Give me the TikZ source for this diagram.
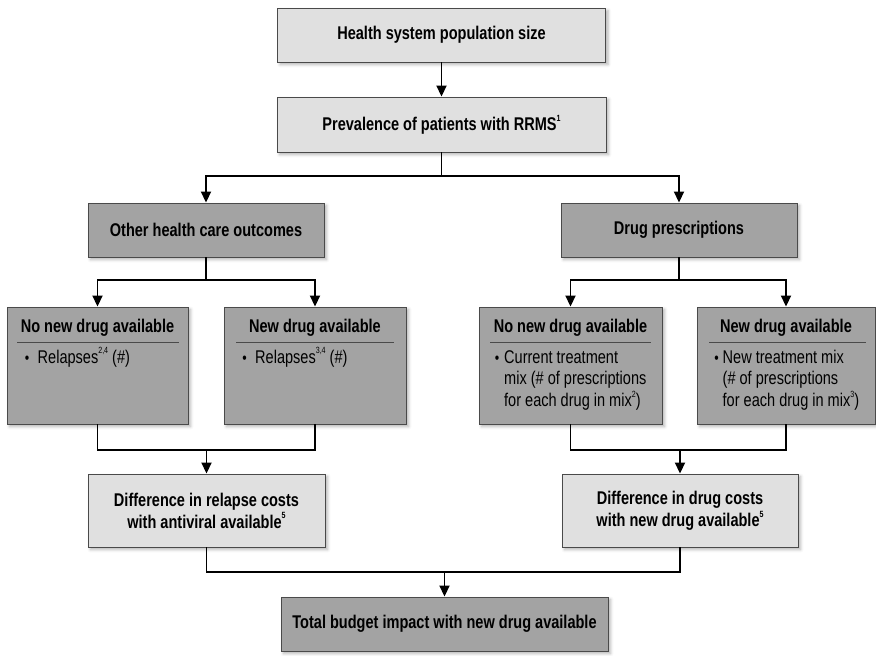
\documentclass[tikz,border=0pt]{standalone}
\usepackage{fontspec}
\setmainfont{Liberation Sans}[FakeStretch=0.79]
\usetikzlibrary{arrows.meta,shadows.blur}
\definecolor{lightfill}{HTML}{E0E0E0}
\definecolor{darkfill}{HTML}{A3A3A3}
\definecolor{edgegray}{HTML}{4A4A4A}
\newcommand{\supnum}[1]{\raisebox{0.5em}{\fontsize{9}{9}\selectfont #1}}
\tikzset{
  basebox/.style={draw=edgegray, line width=0.9pt, inner sep=0pt, align=center,
    font=\bfseries\fontsize{18.4}{22}\selectfont,
    blur shadow={shadow xshift=2.5pt, shadow yshift=-2.5pt, shadow blur radius=3pt, shadow opacity=30}},
  lightbox/.style={basebox, fill=lightfill},
  darkbox/.style={basebox, fill=darkfill},
  boxtitle/.style={font=\bfseries\fontsize{18.4}{20}\selectfont, inner sep=0pt, anchor=base},
  bodyline/.style={font=\fontsize{18.4}{20}\selectfont, inner sep=0pt, anchor=base west},
  bulletmark/.style={font=\fontsize{16}{20}\selectfont, inner sep=0pt, anchor=base},
  divider/.style={draw=edgegray, line width=0.8pt},
  link/.style={line width=1.8pt, draw=black},
  arr/.style={link, -{Triangle[length=11pt, width=10pt]}}
}
\begin{document}
\begin{tikzpicture}[x=1pt, y=-1pt]
\useasboundingbox (0,0) rectangle (876,656);

% top chain
\node[lightbox, minimum width=328pt, minimum height=54pt] (popsize) at (441.5,35) {Health system population size};
\node[lightbox, minimum width=329pt, minimum height=55pt] (prevalence) at (441.5,124.5) {Prevalence of patients with RRMS\supnum{1}};

% second level
\node[darkbox, minimum width=236pt, minimum height=54pt] (outcomes) at (206,230) {Other health care outcomes};
\node[darkbox, minimum width=236pt, minimum height=54pt] (prescr) at (679,230) {Drug prescriptions};

% scenario boxes
\node[darkbox, minimum width=181pt, minimum height=117pt] (relno) at (97.5,365.5) {};
\node[darkbox, minimum width=182pt, minimum height=117pt] (relnew) at (315,365.5) {};
\node[darkbox, minimum width=183pt, minimum height=117pt] (mixno) at (570.5,365.5) {};
\node[darkbox, minimum width=178pt, minimum height=117pt] (mixnew) at (786,365.5) {};

% titles and dividers inside scenario boxes
\node[boxtitle] (relnoT) at (97.5,332) {No new drug available};
\node[boxtitle] (relnewT) at (315,332) {New drug available};
\node[boxtitle] (mixnoT) at (570.5,332) {No new drug available};
\node[boxtitle] (mixnewT) at (786,332) {New drug available};
\draw[divider] (17,342) -- (179,342);
\draw[divider] (236,342) -- (394,342);
\draw[divider] (490,342) -- (651,342);
\draw[divider] (709,342) -- (866,342);

% bullet texts
\node[bulletmark] (relnoB) at (27,363) {\textbullet};
\node[bodyline] (relnoL1) at (37.5,363) {Relapses\supnum{2,4} (\#)};
\node[bulletmark] (relnewB) at (244.5,363) {\textbullet};
\node[bodyline] (relnewL1) at (255,363) {Relapses\supnum{3,4} (\#)};

\node[bulletmark] (mixnoB) at (497,363) {\textbullet};
\node[bodyline] (mixnoL1) at (504,363) {Current treatment};
\node[bodyline] (mixnoL2) at (504,384.7) {mix (\# of prescriptions};
\node[bodyline] (mixnoL3) at (504,406.4) {for each drug in mix\supnum{2})};

\node[bulletmark] (mixnewB) at (716.5,363) {\textbullet};
\node[bodyline] (mixnewL1) at (722.5,363) {New treatment mix};
\node[bodyline] (mixnewL2) at (722.5,384.7) {(\# of prescriptions};
\node[bodyline] (mixnewL3) at (722.5,406.4) {for each drug in mix\supnum{3})};

% difference boxes
\node[lightbox, minimum width=237pt, minimum height=73pt] (reldiff) at (206.5,510.5) {Difference in relapse costs\\with antiviral available\supnum{5}};
\node[lightbox, minimum width=236pt, minimum height=73pt] (drugdiff) at (680,510.5) {Difference in drug costs\\with new drug available\supnum{5}};

% total
\node[darkbox, minimum width=327pt, minimum height=54pt] (total) at (444.5,624) {Total budget impact with new drug available};

% connectors
\draw[arr] (popsize.south) -- (prevalence.north);

\coordinate (split1) at (441.5,176);
\draw[link] (prevalence.south) -- (split1);
\draw[arr] (split1) -| (outcomes.north);
\draw[arr] (split1) -| (prescr.north);

\coordinate (split2) at (206,280);
\draw[link] (outcomes.south) -- (split2);
\draw[arr] (split2) -| (relno.north);
\draw[arr] (split2) -| (relnew.north);

\coordinate (split3) at (679,280);
\draw[link] (prescr.south) -- (split3);
\draw[arr] (split3) -| (mixno.north);
\draw[arr] (split3) -| (mixnew.north);

\coordinate (join1) at (206.5,450);
\draw[link] (relno.south) |- (join1) -| (relnew.south);
\draw[arr] (join1) -- (reldiff.north);

\coordinate (join2) at (680,450);
\draw[link] (mixno.south) |- (join2) -| (mixnew.south);
\draw[arr] (join2) -- (drugdiff.north);

\coordinate (join3) at (444.5,572);
\draw[link] (reldiff.south) |- (join3) -| (drugdiff.south);
\draw[arr] (join3) -- (total.north);
\end{tikzpicture}
\end{document}
